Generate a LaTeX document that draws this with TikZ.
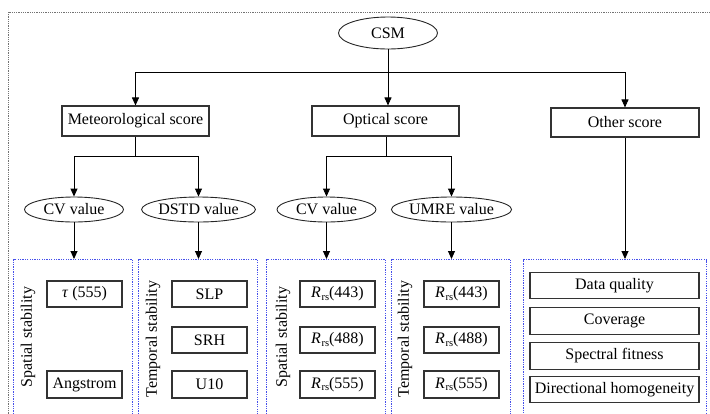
\documentclass[tikz,border=0pt]{standalone}
\usepackage{fontspec}
\setmainfont{Liberation Serif}
\usetikzlibrary{arrows.meta,shapes.geometric}
\definecolor{dotblue}{RGB}{70,80,235}
\newcommand\Rrs{\textit{R}\kern0.5pt\raisebox{-0.3ex}{\fontsize{10.5}{11}\selectfont rs}}
\begin{document}
\begin{tikzpicture}[x=1pt,y=-1pt,
  every node/.style={font=\fontsize{16}{18}\selectfont, inner sep=0pt},
  ell/.style={ellipse, draw=black!85, line width=0.9pt, minimum width=99pt, minimum height=25pt},
  rectbox/.style={rectangle, draw=black!80, line width=1.1pt, minimum width=147pt, minimum height=30pt},
  itembox/.style={rectangle, draw=black!80, line width=1.1pt, minimum width=75pt, minimum height=26pt},
  widebox/.style={rectangle, draw=black!80, line width=1.1pt, minimum width=169pt, minimum height=26.5pt},
  group/.style={rectangle, draw=dotblue, line width=1.3pt, dash pattern=on 1.3pt off 1.1pt, anchor=north west, minimum height=180pt},
  vlabel/.style={rotate=90},
  conn/.style={line width=0.9pt, draw=black},
  arr/.style={conn, -{Triangle[length=8pt,width=7pt]}}
]
\useasboundingbox (0,0) rectangle (710,413);
\clip (0,0) rectangle (710,413);
\draw[black!55, line width=0.9pt, dash pattern=on 0.9pt off 0.9pt] (8,12) rectangle (730,440);

% top level
\node[ell, minimum height=32pt] (csm) at (388,33) {CSM};
\node[rectbox] (met) at (135.5,121) {Meteorological score};
\node[rectbox] (opt) at (385.5,121) {Optical score};
\node[rectbox, minimum width=148pt, minimum height=29pt] (oth) at (625,122.5) {Other score};
\coordinate (hj) at (388,72);
\draw[arr] (csm.south) -- (csm.south |- opt.north);
\draw[arr] (hj) -| (met.north);
\draw[arr] (hj) -| (oth.north);

% second level
\node[ell] (cv1) at (74,209.5) {CV value};
\node[ell] (dstd) at (198.5,209.5) {DSTD value};
\node[ell] (cv2) at (326.5,209.5) {CV value};
\node[ell] (umre) at (451.5,209.5) {UMRE value};
\coordinate (mj) at (135.5,156);
\coordinate (oj) at (386,156);
\draw[conn] (met.south) -- (mj);
\draw[arr] (mj) -| (cv1.north);
\draw[arr] (mj) -| (dstd.north);
\draw[conn] (oj |- opt.south) -- (oj);
\draw[arr] (oj) -| (cv2.north);
\draw[arr] (oj) -| (umre.north);

% groups
\node[group, minimum width=119pt] (g1) at (13,259) {};
\node[group, minimum width=119pt] (g2) at (138,259) {};
\node[group, minimum width=119pt] (g3) at (266,259) {};
\node[group, minimum width=119pt] (g4) at (391,259) {};
\node[group, minimum width=183pt] (g5) at (523,259) {};
\draw[arr] (cv1.south) -- (cv1.south |- g1.north);
\draw[arr] (dstd.south) -- (dstd.south |- g2.north);
\draw[arr] (cv2.south) -- (cv2.south |- g3.north);
\draw[arr] (umre.south) -- (umre.south |- g4.north);
\draw[arr] (oth.south) -- (oth.south |- g5.north);

% group 1
\node[vlabel] (l1) at (28,337) {Spatial stability};
\node[itembox] (tau) at (84.5,294) {\textit{τ}\ (555)};
\node[itembox, minimum height=27pt] (ang) at (84.5,384.5) {Angstrom};
% group 2
\node[vlabel] (l2) at (153,339) {Temporal stability};
\node[itembox] (slp) at (209.5,294) {SLP};
\node[itembox] (srh) at (209.5,340) {SRH};
\node[itembox, minimum height=27pt] (u10) at (209.5,384.5) {U10};
% group 3
\node[vlabel] (l3) at (283,337) {Spatial stability};
\node[itembox] (a443) at (337.5,294) {\Rrs(443)};
\node[itembox] (a488) at (337.5,340) {\Rrs(488)};
\node[itembox, minimum height=27pt] (a555) at (337.5,384.5) {\Rrs(555)};
% group 4
\node[vlabel] (l4) at (405,339) {Temporal stability};
\node[itembox] (b443) at (461.5,294) {\Rrs(443)};
\node[itembox] (b488) at (461.5,340) {\Rrs(488)};
\node[itembox, minimum height=27pt] (b555) at (461.5,384.5) {\Rrs(555)};
% group 5
\node[widebox] (dq) at (614.5,285.5) {Data quality};
\node[widebox] (cov) at (614.5,321) {Coverage};
\node[widebox] (spf) at (614.5,356) {Spectral fitness};
\node[widebox] (dir) at (614.5,389.5) {Directional homogeneity};
\end{tikzpicture}
\end{document}
